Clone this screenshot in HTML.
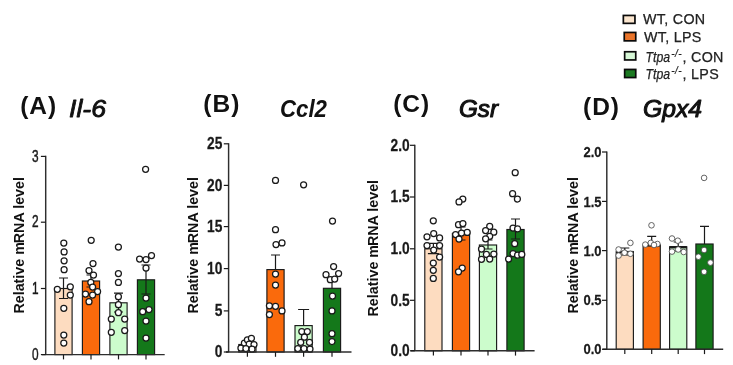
<!DOCTYPE html>
<html><head><meta charset="utf-8"><title>Figure</title>
<style>
html,body{margin:0;padding:0;background:#fff;}
body{width:733px;height:365px;overflow:hidden;font-family:"Liberation Sans",sans-serif;}
svg{display:block;font-family:"Liberation Sans",sans-serif;filter:blur(0.4px);}
</style></head><body>
<svg width="733" height="365" viewBox="0 0 733 365">
<rect width="733" height="365" fill="#fff"/>
<g id="fig" opacity="0.999">
<rect x="54.90" y="288.50" width="17.20" height="66.10" fill="#fddcc0" stroke="#1a1a1a" stroke-width="1.15"/>
<path d="M63.50 278.00V298.50M59.00 278.00h9M59.00 298.50h9" stroke="#1a1a1a" stroke-width="1.2" fill="none"/>
<rect x="82.40" y="281.00" width="17.20" height="73.60" fill="#fa6a0c" stroke="#1a1a1a" stroke-width="1.15"/>
<path d="M91.00 275.00V287.00M86.50 275.00h9M86.50 287.00h9" stroke="#1a1a1a" stroke-width="1.2" fill="none"/>
<rect x="109.90" y="302.80" width="17.20" height="51.80" fill="#ccfccc" stroke="#1a1a1a" stroke-width="1.15"/>
<path d="M118.50 293.20V312.00M114.00 293.20h9M114.00 312.00h9" stroke="#1a1a1a" stroke-width="1.2" fill="none"/>
<rect x="137.40" y="279.80" width="17.20" height="74.80" fill="#14781a" stroke="#1a1a1a" stroke-width="1.15"/>
<path d="M146.00 265.00V294.00M141.50 265.00h9M141.50 294.00h9" stroke="#1a1a1a" stroke-width="1.2" fill="none"/>
<circle cx="63.8" cy="243.0" r="3.0" fill="#fff" stroke="#1a1a1a" stroke-width="1.25"/>
<circle cx="64.1" cy="251.9" r="3.0" fill="#fff" stroke="#1a1a1a" stroke-width="1.25"/>
<circle cx="64.1" cy="260.8" r="3.0" fill="#fff" stroke="#1a1a1a" stroke-width="1.25"/>
<circle cx="64.1" cy="269.7" r="3.0" fill="#fff" stroke="#1a1a1a" stroke-width="1.25"/>
<circle cx="57.3" cy="289.3" r="3.0" fill="#fff" stroke="#1a1a1a" stroke-width="1.25"/>
<circle cx="70.3" cy="286.8" r="3.0" fill="#fff" stroke="#1a1a1a" stroke-width="1.25"/>
<circle cx="70.3" cy="295.1" r="3.0" fill="#fff" stroke="#1a1a1a" stroke-width="1.25"/>
<circle cx="63.8" cy="308.3" r="3.0" fill="#fff" stroke="#1a1a1a" stroke-width="1.25"/>
<circle cx="63.8" cy="335.0" r="3.0" fill="#fff" stroke="#1a1a1a" stroke-width="1.25"/>
<circle cx="63.8" cy="343.0" r="3.0" fill="#fff" stroke="#1a1a1a" stroke-width="1.25"/>
<circle cx="91.2" cy="240.3" r="3.0" fill="#fff" stroke="#1a1a1a" stroke-width="1.25"/>
<circle cx="93.0" cy="263.5" r="3.0" fill="#fff" stroke="#1a1a1a" stroke-width="1.25"/>
<circle cx="89.0" cy="270.6" r="3.0" fill="#fff" stroke="#1a1a1a" stroke-width="1.25"/>
<circle cx="93.5" cy="275.0" r="3.0" fill="#fff" stroke="#1a1a1a" stroke-width="1.25"/>
<circle cx="90.8" cy="282.4" r="3.0" fill="#fff" stroke="#1a1a1a" stroke-width="1.25"/>
<circle cx="85.5" cy="294.0" r="3.0" fill="#fff" stroke="#1a1a1a" stroke-width="1.25"/>
<circle cx="92.6" cy="287.0" r="3.0" fill="#fff" stroke="#1a1a1a" stroke-width="1.25"/>
<circle cx="97.6" cy="291.5" r="3.0" fill="#fff" stroke="#1a1a1a" stroke-width="1.25"/>
<circle cx="92.6" cy="295.0" r="3.0" fill="#fff" stroke="#1a1a1a" stroke-width="1.25"/>
<circle cx="89.0" cy="301.7" r="3.0" fill="#fff" stroke="#1a1a1a" stroke-width="1.25"/>
<circle cx="118.4" cy="247.1" r="3.0" fill="#fff" stroke="#1a1a1a" stroke-width="1.25"/>
<circle cx="118.4" cy="273.5" r="3.0" fill="#fff" stroke="#1a1a1a" stroke-width="1.25"/>
<circle cx="118.4" cy="282.4" r="3.0" fill="#fff" stroke="#1a1a1a" stroke-width="1.25"/>
<circle cx="118.4" cy="296.7" r="3.0" fill="#fff" stroke="#1a1a1a" stroke-width="1.25"/>
<circle cx="118.4" cy="304.7" r="3.0" fill="#fff" stroke="#1a1a1a" stroke-width="1.25"/>
<circle cx="118.4" cy="312.7" r="3.0" fill="#fff" stroke="#1a1a1a" stroke-width="1.25"/>
<circle cx="111.3" cy="319.0" r="3.0" fill="#fff" stroke="#1a1a1a" stroke-width="1.25"/>
<circle cx="124.7" cy="319.0" r="3.0" fill="#fff" stroke="#1a1a1a" stroke-width="1.25"/>
<circle cx="124.7" cy="330.5" r="3.0" fill="#fff" stroke="#1a1a1a" stroke-width="1.25"/>
<circle cx="111.3" cy="332.3" r="3.0" fill="#fff" stroke="#1a1a1a" stroke-width="1.25"/>
<circle cx="145.6" cy="169.3" r="3.0" fill="#fff" stroke="#1a1a1a" stroke-width="1.25"/>
<circle cx="139.6" cy="259.0" r="3.0" fill="#fff" stroke="#1a1a1a" stroke-width="1.25"/>
<circle cx="146.0" cy="259.6" r="3.0" fill="#fff" stroke="#1a1a1a" stroke-width="1.25"/>
<circle cx="151.5" cy="255.5" r="3.0" fill="#fff" stroke="#1a1a1a" stroke-width="1.25"/>
<circle cx="146.0" cy="268.0" r="3.0" fill="#fff" stroke="#1a1a1a" stroke-width="1.25"/>
<circle cx="146.0" cy="298.0" r="3.0" fill="#fff" stroke="#1a1a1a" stroke-width="1.25"/>
<circle cx="142.7" cy="311.7" r="3.0" fill="#fff" stroke="#1a1a1a" stroke-width="1.25"/>
<circle cx="149.0" cy="309.5" r="3.0" fill="#fff" stroke="#1a1a1a" stroke-width="1.25"/>
<circle cx="146.0" cy="321.0" r="3.0" fill="#fff" stroke="#1a1a1a" stroke-width="1.25"/>
<circle cx="146.0" cy="338.0" r="3.0" fill="#fff" stroke="#1a1a1a" stroke-width="1.25"/>
<path d="M45.70 155.80V354.60M42.00 354.60H164.70" stroke="#2e2e2e" stroke-width="1.45" fill="none"/>
<path d="M40.90 354.60H45.70" stroke="#1a1a1a" stroke-width="1.2"/>
<text transform="translate(38.50 359.73) scale(0.74 1)" text-anchor="end" font-size="16" font-weight="400" fill="#1a1a1a" stroke="#1a1a1a" stroke-width="0.45">0</text>
<path d="M40.90 288.50H45.70" stroke="#1a1a1a" stroke-width="1.2"/>
<text transform="translate(38.50 293.63) scale(0.74 1)" text-anchor="end" font-size="16" font-weight="400" fill="#1a1a1a" stroke="#1a1a1a" stroke-width="0.45">1</text>
<path d="M40.90 222.20H45.70" stroke="#1a1a1a" stroke-width="1.2"/>
<text transform="translate(38.50 227.33) scale(0.74 1)" text-anchor="end" font-size="16" font-weight="400" fill="#1a1a1a" stroke="#1a1a1a" stroke-width="0.45">2</text>
<path d="M40.90 156.40H45.70" stroke="#1a1a1a" stroke-width="1.2"/>
<text transform="translate(38.50 161.53) scale(0.74 1)" text-anchor="end" font-size="16" font-weight="400" fill="#1a1a1a" stroke="#1a1a1a" stroke-width="0.45">3</text>
<path d="M63.50 354.60v4.8" stroke="#1a1a1a" stroke-width="1.2"/>
<path d="M91.00 354.60v4.8" stroke="#1a1a1a" stroke-width="1.2"/>
<path d="M118.50 354.60v4.8" stroke="#1a1a1a" stroke-width="1.2"/>
<path d="M146.00 354.60v4.8" stroke="#1a1a1a" stroke-width="1.2"/>
<text transform="translate(24.00 177.00) rotate(-90)" text-anchor="end" font-size="14.3" font-weight="700" fill="#111">RNA level</text>
<text transform="translate(24.00 313.60) rotate(-90)" text-anchor="start" font-size="14.3" font-weight="700" fill="#111">Relative m</text>
<text x="20.2" y="113.8" font-size="24.5" font-weight="700" fill="#111" letter-spacing="1.0">(A)</text>
<text x="69" y="117.2" font-size="23.5" font-weight="400" font-style="italic" fill="#111" stroke="#111" stroke-width="0.8" stroke-linejoin="round" textLength="37" lengthAdjust="spacingAndGlyphs">Il-6</text>
<rect x="238.80" y="344.50" width="17.20" height="7.50" fill="#fddcc0" stroke="#1a1a1a" stroke-width="1.15"/>
<rect x="266.90" y="269.60" width="17.20" height="82.40" fill="#fa6a0c" stroke="#1a1a1a" stroke-width="1.15"/>
<path d="M275.50 255.00V269.60M271.00 255.00h9" stroke="#1a1a1a" stroke-width="1.2" fill="none"/>
<rect x="295.00" y="325.60" width="17.20" height="26.40" fill="#ccfccc" stroke="#1a1a1a" stroke-width="1.15"/>
<path d="M303.60 309.50V325.60M298.10 309.50h11" stroke="#1a1a1a" stroke-width="1.2" fill="none"/>
<rect x="323.40" y="288.30" width="17.20" height="63.70" fill="#14781a" stroke="#1a1a1a" stroke-width="1.15"/>
<path d="M332.00 280.00V288.30M327.50 280.00h9" stroke="#1a1a1a" stroke-width="1.2" fill="none"/>
<circle cx="240.9" cy="348.0" r="3.0" fill="#fff" stroke="#1a1a1a" stroke-width="1.25"/>
<circle cx="244.4" cy="343.0" r="3.0" fill="#fff" stroke="#1a1a1a" stroke-width="1.25"/>
<circle cx="247.4" cy="339.8" r="3.0" fill="#fff" stroke="#1a1a1a" stroke-width="1.25"/>
<circle cx="251.4" cy="338.3" r="3.0" fill="#fff" stroke="#1a1a1a" stroke-width="1.25"/>
<circle cx="249.2" cy="344.2" r="3.0" fill="#fff" stroke="#1a1a1a" stroke-width="1.25"/>
<circle cx="254.0" cy="344.6" r="3.0" fill="#fff" stroke="#1a1a1a" stroke-width="1.25"/>
<circle cx="245.9" cy="348.6" r="3.0" fill="#fff" stroke="#1a1a1a" stroke-width="1.25"/>
<circle cx="252.0" cy="349.2" r="3.0" fill="#fff" stroke="#1a1a1a" stroke-width="1.25"/>
<circle cx="275.5" cy="180.4" r="3.0" fill="#fff" stroke="#1a1a1a" stroke-width="1.25"/>
<circle cx="275.5" cy="229.7" r="3.0" fill="#fff" stroke="#1a1a1a" stroke-width="1.25"/>
<circle cx="276.0" cy="244.6" r="3.0" fill="#fff" stroke="#1a1a1a" stroke-width="1.25"/>
<circle cx="282.0" cy="242.9" r="3.0" fill="#fff" stroke="#1a1a1a" stroke-width="1.25"/>
<circle cx="275.5" cy="274.0" r="3.0" fill="#fff" stroke="#1a1a1a" stroke-width="1.25"/>
<circle cx="275.5" cy="285.0" r="3.0" fill="#fff" stroke="#1a1a1a" stroke-width="1.25"/>
<circle cx="269.4" cy="305.8" r="3.0" fill="#fff" stroke="#1a1a1a" stroke-width="1.25"/>
<circle cx="275.5" cy="306.3" r="3.0" fill="#fff" stroke="#1a1a1a" stroke-width="1.25"/>
<circle cx="282.0" cy="310.9" r="3.0" fill="#fff" stroke="#1a1a1a" stroke-width="1.25"/>
<circle cx="269.4" cy="314.6" r="3.0" fill="#fff" stroke="#1a1a1a" stroke-width="1.25"/>
<circle cx="303.6" cy="184.8" r="3.0" fill="#fff" stroke="#1a1a1a" stroke-width="1.25"/>
<circle cx="301.8" cy="331.5" r="3.0" fill="#fff" stroke="#1a1a1a" stroke-width="1.25"/>
<circle cx="307.3" cy="331.5" r="3.0" fill="#fff" stroke="#1a1a1a" stroke-width="1.25"/>
<circle cx="304.4" cy="337.2" r="3.0" fill="#fff" stroke="#1a1a1a" stroke-width="1.25"/>
<circle cx="300.7" cy="342.4" r="3.0" fill="#fff" stroke="#1a1a1a" stroke-width="1.25"/>
<circle cx="309.5" cy="342.4" r="3.0" fill="#fff" stroke="#1a1a1a" stroke-width="1.25"/>
<circle cx="297.8" cy="348.6" r="3.0" fill="#fff" stroke="#1a1a1a" stroke-width="1.25"/>
<circle cx="304.0" cy="348.6" r="3.0" fill="#fff" stroke="#1a1a1a" stroke-width="1.25"/>
<circle cx="310.0" cy="349.0" r="3.0" fill="#fff" stroke="#1a1a1a" stroke-width="1.25"/>
<circle cx="332.5" cy="221.0" r="3.0" fill="#fff" stroke="#1a1a1a" stroke-width="1.25"/>
<circle cx="333.6" cy="266.5" r="3.0" fill="#fff" stroke="#1a1a1a" stroke-width="1.25"/>
<circle cx="326.0" cy="274.7" r="3.0" fill="#fff" stroke="#1a1a1a" stroke-width="1.25"/>
<circle cx="338.6" cy="273.6" r="3.0" fill="#fff" stroke="#1a1a1a" stroke-width="1.25"/>
<circle cx="330.3" cy="279.7" r="3.0" fill="#fff" stroke="#1a1a1a" stroke-width="1.25"/>
<circle cx="334.7" cy="279.0" r="3.0" fill="#fff" stroke="#1a1a1a" stroke-width="1.25"/>
<circle cx="332.5" cy="296.0" r="3.0" fill="#fff" stroke="#1a1a1a" stroke-width="1.25"/>
<circle cx="332.0" cy="310.9" r="3.0" fill="#fff" stroke="#1a1a1a" stroke-width="1.25"/>
<circle cx="332.0" cy="333.7" r="3.0" fill="#fff" stroke="#1a1a1a" stroke-width="1.25"/>
<circle cx="332.0" cy="341.5" r="3.0" fill="#fff" stroke="#1a1a1a" stroke-width="1.25"/>
<path d="M228.60 143.20V352.00M226.00 352.00H351.50" stroke="#2e2e2e" stroke-width="1.45" fill="none"/>
<path d="M223.80 352.00H228.60" stroke="#1a1a1a" stroke-width="1.2"/>
<text transform="translate(222.40 357.36) scale(0.8 1)" text-anchor="end" font-size="17.2" font-weight="700" fill="#1a1a1a" stroke="#1a1a1a" stroke-width="0.25">0</text>
<path d="M223.80 310.90H228.60" stroke="#1a1a1a" stroke-width="1.2"/>
<text transform="translate(222.40 316.26) scale(0.8 1)" text-anchor="end" font-size="17.2" font-weight="700" fill="#1a1a1a" stroke="#1a1a1a" stroke-width="0.25">5</text>
<path d="M223.80 268.60H228.60" stroke="#1a1a1a" stroke-width="1.2"/>
<text transform="translate(222.40 273.96) scale(0.8 1)" text-anchor="end" font-size="17.2" font-weight="700" fill="#1a1a1a" stroke="#1a1a1a" stroke-width="0.25">10</text>
<path d="M223.80 226.60H228.60" stroke="#1a1a1a" stroke-width="1.2"/>
<text transform="translate(222.40 231.96) scale(0.8 1)" text-anchor="end" font-size="17.2" font-weight="700" fill="#1a1a1a" stroke="#1a1a1a" stroke-width="0.25">15</text>
<path d="M223.80 185.40H228.60" stroke="#1a1a1a" stroke-width="1.2"/>
<text transform="translate(222.40 190.76) scale(0.8 1)" text-anchor="end" font-size="17.2" font-weight="700" fill="#1a1a1a" stroke="#1a1a1a" stroke-width="0.25">20</text>
<path d="M223.80 143.80H228.60" stroke="#1a1a1a" stroke-width="1.2"/>
<text transform="translate(222.40 149.16) scale(0.8 1)" text-anchor="end" font-size="17.2" font-weight="700" fill="#1a1a1a" stroke="#1a1a1a" stroke-width="0.25">25</text>
<path d="M247.40 352.00v4.8" stroke="#1a1a1a" stroke-width="1.2"/>
<path d="M275.50 352.00v4.8" stroke="#1a1a1a" stroke-width="1.2"/>
<path d="M303.60 352.00v4.8" stroke="#1a1a1a" stroke-width="1.2"/>
<path d="M332.00 352.00v4.8" stroke="#1a1a1a" stroke-width="1.2"/>
<text transform="translate(197.60 177.00) rotate(-90)" text-anchor="end" font-size="14.3" font-weight="700" fill="#111">RNA level</text>
<text transform="translate(197.60 313.60) rotate(-90)" text-anchor="start" font-size="14.3" font-weight="700" fill="#111">Relative m</text>
<text x="203.3" y="111.9" font-size="24.5" font-weight="700" fill="#111" letter-spacing="1.0">(B)</text>
<text x="280" y="116.5" font-size="23.5" font-weight="700" font-style="italic" fill="#111" stroke="#111" stroke-width="0" stroke-linejoin="round" textLength="47" lengthAdjust="spacingAndGlyphs">Ccl2</text>
<rect x="424.80" y="248.80" width="17.20" height="102.00" fill="#fddcc0" stroke="#1a1a1a" stroke-width="1.15"/>
<path d="M433.40 243.40V253.70M427.90 243.40h11M427.90 253.70h11" stroke="#1a1a1a" stroke-width="1.2" fill="none"/>
<rect x="452.40" y="233.50" width="17.20" height="117.30" fill="#fa6a0c" stroke="#1a1a1a" stroke-width="1.15"/>
<path d="M461.00 227.00V240.00M456.50 227.00h9M456.50 240.00h9" stroke="#1a1a1a" stroke-width="1.2" fill="none"/>
<rect x="479.40" y="245.00" width="17.20" height="105.80" fill="#ccfccc" stroke="#1a1a1a" stroke-width="1.15"/>
<path d="M488.00 240.00V249.00M483.50 240.00h9M483.50 249.00h9" stroke="#1a1a1a" stroke-width="1.2" fill="none"/>
<rect x="506.90" y="229.50" width="17.20" height="121.30" fill="#14781a" stroke="#1a1a1a" stroke-width="1.15"/>
<path d="M515.50 219.00V239.00M511.00 219.00h9M511.00 239.00h9" stroke="#1a1a1a" stroke-width="1.2" fill="none"/>
<circle cx="433.3" cy="220.8" r="3.0" fill="#fff" stroke="#1a1a1a" stroke-width="1.25"/>
<circle cx="427.0" cy="236.8" r="3.0" fill="#fff" stroke="#1a1a1a" stroke-width="1.25"/>
<circle cx="433.7" cy="233.5" r="3.0" fill="#fff" stroke="#1a1a1a" stroke-width="1.25"/>
<circle cx="439.6" cy="237.9" r="3.0" fill="#fff" stroke="#1a1a1a" stroke-width="1.25"/>
<circle cx="427.0" cy="245.5" r="3.0" fill="#fff" stroke="#1a1a1a" stroke-width="1.25"/>
<circle cx="439.6" cy="245.5" r="3.0" fill="#fff" stroke="#1a1a1a" stroke-width="1.25"/>
<circle cx="433.7" cy="250.0" r="3.0" fill="#fff" stroke="#1a1a1a" stroke-width="1.25"/>
<circle cx="439.6" cy="257.0" r="3.0" fill="#fff" stroke="#1a1a1a" stroke-width="1.25"/>
<circle cx="433.3" cy="263.0" r="3.0" fill="#fff" stroke="#1a1a1a" stroke-width="1.25"/>
<circle cx="433.3" cy="270.3" r="3.0" fill="#fff" stroke="#1a1a1a" stroke-width="1.25"/>
<circle cx="433.3" cy="278.4" r="3.0" fill="#fff" stroke="#1a1a1a" stroke-width="1.25"/>
<circle cx="462.8" cy="199.0" r="3.0" fill="#fff" stroke="#1a1a1a" stroke-width="1.25"/>
<circle cx="459.0" cy="201.9" r="3.0" fill="#fff" stroke="#1a1a1a" stroke-width="1.25"/>
<circle cx="458.5" cy="224.7" r="3.0" fill="#fff" stroke="#1a1a1a" stroke-width="1.25"/>
<circle cx="462.9" cy="223.6" r="3.0" fill="#fff" stroke="#1a1a1a" stroke-width="1.25"/>
<circle cx="455.6" cy="234.6" r="3.0" fill="#fff" stroke="#1a1a1a" stroke-width="1.25"/>
<circle cx="467.2" cy="232.4" r="3.0" fill="#fff" stroke="#1a1a1a" stroke-width="1.25"/>
<circle cx="461.5" cy="233.0" r="3.0" fill="#fff" stroke="#1a1a1a" stroke-width="1.25"/>
<circle cx="459.0" cy="239.0" r="3.0" fill="#fff" stroke="#1a1a1a" stroke-width="1.25"/>
<circle cx="462.2" cy="268.0" r="3.0" fill="#fff" stroke="#1a1a1a" stroke-width="1.25"/>
<circle cx="458.5" cy="271.8" r="3.0" fill="#fff" stroke="#1a1a1a" stroke-width="1.25"/>
<circle cx="489.7" cy="226.4" r="3.0" fill="#fff" stroke="#1a1a1a" stroke-width="1.25"/>
<circle cx="485.6" cy="230.5" r="3.0" fill="#fff" stroke="#1a1a1a" stroke-width="1.25"/>
<circle cx="493.8" cy="232.2" r="3.0" fill="#fff" stroke="#1a1a1a" stroke-width="1.25"/>
<circle cx="489.7" cy="236.3" r="3.0" fill="#fff" stroke="#1a1a1a" stroke-width="1.25"/>
<circle cx="485.6" cy="238.8" r="3.0" fill="#fff" stroke="#1a1a1a" stroke-width="1.25"/>
<circle cx="481.5" cy="249.1" r="3.0" fill="#fff" stroke="#1a1a1a" stroke-width="1.25"/>
<circle cx="486.4" cy="254.4" r="3.0" fill="#fff" stroke="#1a1a1a" stroke-width="1.25"/>
<circle cx="493.8" cy="254.0" r="3.0" fill="#fff" stroke="#1a1a1a" stroke-width="1.25"/>
<circle cx="481.5" cy="259.3" r="3.0" fill="#fff" stroke="#1a1a1a" stroke-width="1.25"/>
<circle cx="489.7" cy="259.0" r="3.0" fill="#fff" stroke="#1a1a1a" stroke-width="1.25"/>
<circle cx="515.2" cy="172.7" r="3.0" fill="#fff" stroke="#1a1a1a" stroke-width="1.25"/>
<circle cx="512.6" cy="193.7" r="3.0" fill="#fff" stroke="#1a1a1a" stroke-width="1.25"/>
<circle cx="517.4" cy="199.0" r="3.0" fill="#fff" stroke="#1a1a1a" stroke-width="1.25"/>
<circle cx="513.0" cy="228.1" r="3.0" fill="#fff" stroke="#1a1a1a" stroke-width="1.25"/>
<circle cx="517.6" cy="228.9" r="3.0" fill="#fff" stroke="#1a1a1a" stroke-width="1.25"/>
<circle cx="514.7" cy="243.7" r="3.0" fill="#fff" stroke="#1a1a1a" stroke-width="1.25"/>
<circle cx="513.0" cy="253.5" r="3.0" fill="#fff" stroke="#1a1a1a" stroke-width="1.25"/>
<circle cx="517.6" cy="255.2" r="3.0" fill="#fff" stroke="#1a1a1a" stroke-width="1.25"/>
<circle cx="521.8" cy="254.4" r="3.0" fill="#fff" stroke="#1a1a1a" stroke-width="1.25"/>
<circle cx="508.6" cy="259.0" r="3.0" fill="#fff" stroke="#1a1a1a" stroke-width="1.25"/>
<path d="M414.80 144.70V350.80M410.70 350.80H534.60" stroke="#2e2e2e" stroke-width="1.45" fill="none"/>
<path d="M410.00 350.80H414.80" stroke="#1a1a1a" stroke-width="1.2"/>
<text transform="translate(409.60 356.06) scale(0.8 1)" text-anchor="end" font-size="17.2" font-weight="700" fill="#1a1a1a" stroke="#1a1a1a" stroke-width="0.25">0.0</text>
<path d="M410.00 300.30H414.80" stroke="#1a1a1a" stroke-width="1.2"/>
<text transform="translate(409.60 305.56) scale(0.8 1)" text-anchor="end" font-size="17.2" font-weight="700" fill="#1a1a1a" stroke="#1a1a1a" stroke-width="0.25">0.5</text>
<path d="M410.00 248.80H414.80" stroke="#1a1a1a" stroke-width="1.2"/>
<text transform="translate(409.60 254.06) scale(0.8 1)" text-anchor="end" font-size="17.2" font-weight="700" fill="#1a1a1a" stroke="#1a1a1a" stroke-width="0.25">1.0</text>
<path d="M410.00 197.00H414.80" stroke="#1a1a1a" stroke-width="1.2"/>
<text transform="translate(409.60 202.26) scale(0.8 1)" text-anchor="end" font-size="17.2" font-weight="700" fill="#1a1a1a" stroke="#1a1a1a" stroke-width="0.25">1.5</text>
<path d="M410.00 145.30H414.80" stroke="#1a1a1a" stroke-width="1.2"/>
<text transform="translate(409.60 150.56) scale(0.8 1)" text-anchor="end" font-size="17.2" font-weight="700" fill="#1a1a1a" stroke="#1a1a1a" stroke-width="0.25">2.0</text>
<path d="M433.40 350.80v4.8" stroke="#1a1a1a" stroke-width="1.2"/>
<path d="M461.00 350.80v4.8" stroke="#1a1a1a" stroke-width="1.2"/>
<path d="M488.00 350.80v4.8" stroke="#1a1a1a" stroke-width="1.2"/>
<path d="M515.50 350.80v4.8" stroke="#1a1a1a" stroke-width="1.2"/>
<text transform="translate(378.30 179.90) rotate(-90)" text-anchor="end" font-size="14.3" font-weight="700" fill="#111">RNA level</text>
<text transform="translate(378.30 316.50) rotate(-90)" text-anchor="start" font-size="14.3" font-weight="700" fill="#111">Relative m</text>
<text x="393.2" y="111.9" font-size="24.5" font-weight="700" fill="#111" letter-spacing="1.0">(C)</text>
<text x="459" y="116.5" font-size="23.5" font-weight="400" font-style="italic" fill="#111" stroke="#111" stroke-width="1.05" stroke-linejoin="round" textLength="39" lengthAdjust="spacingAndGlyphs">Gsr</text>
<rect x="616.20" y="251.70" width="17.20" height="97.60" fill="#fddcc0" stroke="#1a1a1a" stroke-width="1.15"/>
<path d="M624.80 248.00V255.00M620.30 248.00h9M620.30 255.00h9" stroke="#1a1a1a" stroke-width="1.2" fill="none"/>
<rect x="643.10" y="245.00" width="17.20" height="104.30" fill="#fa6a0c" stroke="#1a1a1a" stroke-width="1.15"/>
<path d="M651.70 236.30V245.00M647.20 236.30h9" stroke="#1a1a1a" stroke-width="1.2" fill="none"/>
<rect x="669.60" y="246.80" width="17.20" height="102.50" fill="#ccfccc" stroke="#1a1a1a" stroke-width="1.15"/>
<path d="M678.20 242.00V251.00M673.70 242.00h9M673.70 251.00h9" stroke="#1a1a1a" stroke-width="1.2" fill="none"/>
<rect x="695.90" y="244.00" width="17.20" height="105.30" fill="#14781a" stroke="#1a1a1a" stroke-width="1.15"/>
<path d="M704.50 226.40V244.00M700.00 226.40h9" stroke="#1a1a1a" stroke-width="1.2" fill="none"/>
<path d="M616.20 252.10h17.20" stroke="#1a1a1a" stroke-width="2.4"/>
<path d="M643.10 245.40h17.20" stroke="#1a1a1a" stroke-width="2.4"/>
<path d="M669.60 247.20h17.20" stroke="#1a1a1a" stroke-width="2.4"/>
<circle cx="618.6" cy="249.5" r="2.8" fill="#fff" stroke="#4a4a4a" stroke-width="0.85"/>
<circle cx="630.4" cy="242.9" r="2.8" fill="#fff" stroke="#4a4a4a" stroke-width="0.85"/>
<circle cx="618.6" cy="255.6" r="2.8" fill="#fff" stroke="#4a4a4a" stroke-width="0.85"/>
<circle cx="624.5" cy="252.7" r="2.8" fill="#fff" stroke="#4a4a4a" stroke-width="0.85"/>
<circle cx="630.4" cy="253.8" r="2.8" fill="#fff" stroke="#4a4a4a" stroke-width="0.85"/>
<circle cx="651.5" cy="225.3" r="2.8" fill="#fff" stroke="#4a4a4a" stroke-width="0.85"/>
<circle cx="645.3" cy="244.6" r="2.8" fill="#fff" stroke="#4a4a4a" stroke-width="0.85"/>
<circle cx="650.8" cy="242.9" r="2.8" fill="#fff" stroke="#4a4a4a" stroke-width="0.85"/>
<circle cx="657.4" cy="244.0" r="2.8" fill="#fff" stroke="#4a4a4a" stroke-width="0.85"/>
<circle cx="654.0" cy="245.0" r="2.8" fill="#fff" stroke="#4a4a4a" stroke-width="0.85"/>
<circle cx="672.0" cy="238.5" r="2.8" fill="#fff" stroke="#4a4a4a" stroke-width="0.85"/>
<circle cx="677.8" cy="240.7" r="2.8" fill="#fff" stroke="#4a4a4a" stroke-width="0.85"/>
<circle cx="672.0" cy="251.6" r="2.8" fill="#fff" stroke="#4a4a4a" stroke-width="0.85"/>
<circle cx="678.2" cy="249.5" r="2.8" fill="#fff" stroke="#4a4a4a" stroke-width="0.85"/>
<circle cx="683.7" cy="252.0" r="2.8" fill="#fff" stroke="#4a4a4a" stroke-width="0.85"/>
<circle cx="704.1" cy="177.9" r="2.8" fill="#fff" stroke="#4a4a4a" stroke-width="0.85"/>
<circle cx="704.1" cy="250.0" r="2.8" fill="#fff" stroke="#4a4a4a" stroke-width="0.85"/>
<circle cx="698.4" cy="256.7" r="2.8" fill="#fff" stroke="#4a4a4a" stroke-width="0.85"/>
<circle cx="710.4" cy="262.6" r="2.8" fill="#fff" stroke="#4a4a4a" stroke-width="0.85"/>
<circle cx="704.1" cy="271.8" r="2.8" fill="#fff" stroke="#4a4a4a" stroke-width="0.85"/>
<path d="M606.80 151.40V349.30M602.60 349.30H723.20" stroke="#2e2e2e" stroke-width="1.45" fill="none"/>
<path d="M602.00 349.30H606.80" stroke="#1a1a1a" stroke-width="1.2"/>
<text transform="translate(601.50 354.44) scale(0.855 1)" text-anchor="end" font-size="15.2" font-weight="700" fill="#1a1a1a" stroke="#1a1a1a" stroke-width="0.25">0.0</text>
<path d="M602.00 300.30H606.80" stroke="#1a1a1a" stroke-width="1.2"/>
<text transform="translate(601.50 305.44) scale(0.855 1)" text-anchor="end" font-size="15.2" font-weight="700" fill="#1a1a1a" stroke="#1a1a1a" stroke-width="0.25">0.5</text>
<path d="M602.00 250.60H606.80" stroke="#1a1a1a" stroke-width="1.2"/>
<text transform="translate(601.50 255.74) scale(0.855 1)" text-anchor="end" font-size="15.2" font-weight="700" fill="#1a1a1a" stroke="#1a1a1a" stroke-width="0.25">1.0</text>
<path d="M602.00 201.40H606.80" stroke="#1a1a1a" stroke-width="1.2"/>
<text transform="translate(601.50 206.54) scale(0.855 1)" text-anchor="end" font-size="15.2" font-weight="700" fill="#1a1a1a" stroke="#1a1a1a" stroke-width="0.25">1.5</text>
<path d="M602.00 152.00H606.80" stroke="#1a1a1a" stroke-width="1.2"/>
<text transform="translate(601.50 157.14) scale(0.855 1)" text-anchor="end" font-size="15.2" font-weight="700" fill="#1a1a1a" stroke="#1a1a1a" stroke-width="0.25">2.0</text>
<path d="M624.80 349.30v4.8" stroke="#1a1a1a" stroke-width="1.2"/>
<path d="M651.70 349.30v4.8" stroke="#1a1a1a" stroke-width="1.2"/>
<path d="M678.20 349.30v4.8" stroke="#1a1a1a" stroke-width="1.2"/>
<path d="M704.50 349.30v4.8" stroke="#1a1a1a" stroke-width="1.2"/>
<text transform="translate(577.80 177.00) rotate(-90)" text-anchor="end" font-size="14.3" font-weight="700" fill="#111">RNA level</text>
<text transform="translate(577.80 313.60) rotate(-90)" text-anchor="start" font-size="14.3" font-weight="700" fill="#111">Relative m</text>
<text x="583.0" y="114.7" font-size="24.5" font-weight="700" fill="#111" letter-spacing="1.0">(D)</text>
<text x="643" y="117" font-size="23.5" font-weight="400" font-style="italic" fill="#111" stroke="#111" stroke-width="1.0" stroke-linejoin="round" textLength="59" lengthAdjust="spacingAndGlyphs">Gpx4</text>
<rect x="623.35" y="15.45" width="11.60" height="7.90" fill="#fbe6cf" stroke="#0a0a0a" stroke-width="1.7"/>
<text x="643.0" y="23.7" font-size="14.3" fill="#222" stroke="#222" stroke-width="0.25" letter-spacing="0.3">WT, CON</text>
<rect x="624.25" y="32.45" width="11.50" height="8.40" fill="#e9742a" stroke="#0a0a0a" stroke-width="1.7"/>
<text x="644.0" y="41.7" font-size="14.3" fill="#222" stroke="#222" stroke-width="0.25" letter-spacing="0.3">WT, LPS</text>
<rect x="624.65" y="51.75" width="11.10" height="8.20" fill="#d6f7d6" stroke="#0a0a0a" stroke-width="1.7"/>
<text x="645.6" y="62" font-size="14.3" fill="#222" stroke="#222" stroke-width="0.25" font-style="italic" textLength="24.6" lengthAdjust="spacingAndGlyphs">Ttpa</text>
<text x="671.2" y="56.8" font-size="10" fill="#222" stroke="#222" stroke-width="0.2" font-style="italic" letter-spacing="0.5">-/-</text>
<text x="682.5" y="62" font-size="14.3" fill="#222" stroke="#222" stroke-width="0.25" letter-spacing="0.3">, CON</text>
<rect x="624.65" y="69.45" width="11.10" height="8.10" fill="#1c7a22" stroke="#0a0a0a" stroke-width="1.7"/>
<text x="645.6" y="79" font-size="14.3" fill="#222" stroke="#222" stroke-width="0.25" font-style="italic" textLength="24.6" lengthAdjust="spacingAndGlyphs">Ttpa</text>
<text x="671.2" y="73.8" font-size="10" fill="#222" stroke="#222" stroke-width="0.2" font-style="italic" letter-spacing="0.5">-/-</text>
<text x="682.5" y="79" font-size="14.3" fill="#222" stroke="#222" stroke-width="0.25" letter-spacing="0.3">, LPS</text>
</g>
</svg>
</body></html>
